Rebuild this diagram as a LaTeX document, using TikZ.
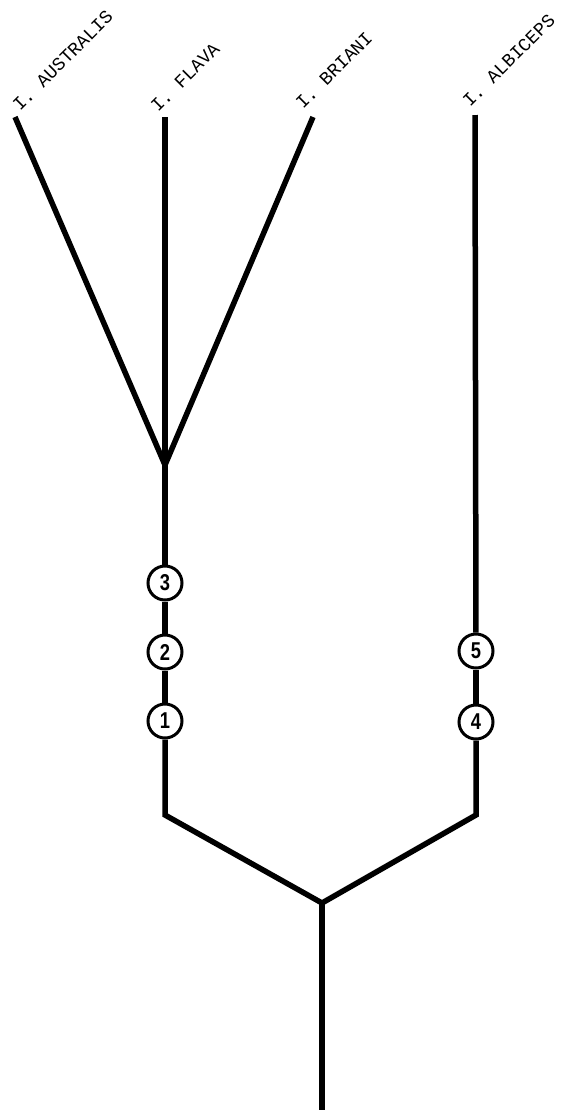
\documentclass[tikz,border=0pt]{standalone}
\usepackage{fontspec}
\setmonofont{Liberation Mono}
\newfontfamily\numfont{Liberation Sans}
\begin{document}
\begin{tikzpicture}[x=1bp,y=1bp,
  branch/.style={line width=5.5bp, line cap=butt, line join=miter},
  marker/.style={circle, draw, line width=3bp, fill=white, minimum size=34bp, inner sep=0pt,
    font=\numfont\bfseries\fontsize{23}{23}\selectfont},
  taxon/.style={rotate=45, anchor=base west, inner sep=0pt,
    font=\ttfamily\fontsize{18.5}{18.5}\selectfont}]
\useasboundingbox (0,-1110) rectangle (568,0);
% tips
\coordinate (aus) at (15,-117);
\coordinate (fla) at (165,-117);
\coordinate (bri) at (313,-117);
\coordinate (alb) at (475,-115);
\coordinate (fork) at (165,-465);
\coordinate (lj) at (165,-815);
\coordinate (rj) at (476,-815);
\coordinate (root) at (322,-903);
\coordinate (base) at (322,-1110);
% markers
\node[marker] (m3) at (165,-583) {\scalebox{0.8}[1]{3}};
\node[marker] (m2) at (165,-652) {\scalebox{0.8}[1]{2}};
\node[marker] (m1) at (165,-721) {\scalebox{0.8}[1]{1}};
\node[marker] (m5) at (476,-651) {\scalebox{0.8}[1]{5}};
\node[marker] (m4) at (476,-722) {\scalebox{0.8}[1]{4}};
% branches
\draw[branch] (aus) -- (fork);
\draw[branch] (bri) -- (fork);
\draw[branch] (fla) -- (fork) -- (m3);
\draw[branch] (m3) -- (m2);
\draw[branch] (m2) -- (m1);
\draw[branch] (m1) -- (lj) -- (root) -- (rj) -- (m4);
\draw[branch] (m4) -- (m5);
\draw[branch] (m5) -- (alb);
\draw[branch] (root) -- (base);
% labels
\node[taxon] (laus) at (20,-112) {I. AUSTRALIS};
\node[taxon] (lfla) at (158,-113) {I. FLAVA};
\node[taxon] (lbri) at (303,-110) {I. BRIANI};
\node[taxon] (lalb) at (470,-108) {I. ALBICEPS};
\end{tikzpicture}
\end{document}
